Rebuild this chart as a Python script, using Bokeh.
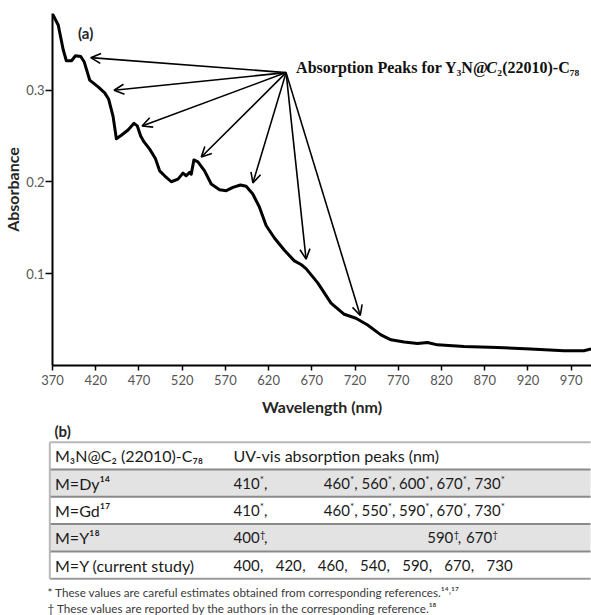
from bokeh.plotting import figure
from bokeh.models import Range1d, Arrow, OpenHead, ColumnDataSource, FixedTicker
from bokeh.layouts import column
from bokeh.embed import file_html
from bokeh.resources import INLINE
from bokeh.core.properties import value

# ---------------- data ----------------
wavelength = [370, 376.6, 382.4, 386, 392, 396.6, 402.7, 406.6, 413, 422.8, 430.4, 435,
              440, 443.9, 449.6, 457.4, 464.3, 468.1, 472, 475.9, 482.4, 489, 493.9,
              499.7, 507.4, 515.2, 520.9, 524.7, 528.6, 530.5, 533.6, 538.2, 545.9,
              553.6, 563.2, 571, 578.7, 587.4, 594, 601.7, 609.4, 617.1, 626.7, 638.3,
              649.8, 657.5, 663.3, 676.8, 692.2, 707.5, 721, 734.5, 749.9, 761.5,
              776.8, 792.2, 803.8, 815.3, 846.1, 884.6, 923.1, 961.6, 984.7, 993]
absorbance = [0.383, 0.371, 0.344, 0.332, 0.332, 0.3375, 0.3367, 0.331, 0.311, 0.3035,
              0.297, 0.290, 0.2717, 0.247, 0.2508, 0.2566, 0.2638, 0.261, 0.250, 0.2436,
              0.2357, 0.2256, 0.2121, 0.2067, 0.2002, 0.2031, 0.2096, 0.2067, 0.2104,
              0.2085, 0.224, 0.2219, 0.2121, 0.1977, 0.1915, 0.1905, 0.1941, 0.1966,
              0.1952, 0.1869, 0.1725, 0.1525, 0.1389, 0.1255, 0.1140, 0.1100, 0.1056,
              0.0900, 0.0680, 0.0558, 0.0515, 0.0442, 0.0334, 0.0280, 0.0255, 0.0240,
              0.0251, 0.0225, 0.0208, 0.0197, 0.0179, 0.0160, 0.0160, 0.0180]

arrow_tip_nm = [414.2, 441.2, 473.6, 542.1, 601.8, 663.3, 726.0]
arrow_tip_abs = [0.3354, 0.2999, 0.2610, 0.2271, 0.1989, 0.1159, 0.0545]
arrow_origin_nm = 640.2
arrow_origin_abs = 0.3191

x_ticks = [370, 420, 470, 520, 570, 620, 670, 720, 770, 820, 870, 920, 970]
y_ticks = [0.1, 0.2, 0.3]

table_header = ["M\u2083N@C\u2082 (22010)-C\u2087\u2088", "UV-vis absorption peaks (nm)"]
table_rows = ["M=Dy\u00b9\u2074", "M=Gd\u00b9\u2077", "M=Y\u00b9\u2078", "M=Y (current study)"]
peaks_dy = [410, 460, 560, 600, 670, 730]
peaks_gd = [410, 460, 550, 590, 670, 730]
peaks_y18 = [400, 590, 670]
peaks_current = [400, 420, 460, 540, 590, 670, 730]
peak_marks = ["*", "*", "\u2020", ""]
footnotes = ["* These values are careful estimates obtained from corresponding references.\u00b9\u2074\u02d2\u00b9\u2077",
             "\u2020 These values are reported by the authors in the corresponding reference.\u00b9\u2078"]

# ---------------- chart (a) ----------------
p = figure(width=591, height=418, x_range=Range1d(370, 993.5), y_range=Range1d(0, 0.3835),
           output_backend="svg", toolbar_location=None,
           min_border_left=51, min_border_right=0, min_border_top=13, min_border_bottom=51)
p.frame_align = False
p.outline_line_color = None
p.grid.visible = False

p.line(wavelength, absorbance, line_width=3, line_color="black", line_join="round")

src = ColumnDataSource(dict(x0=[arrow_origin_nm] * len(arrow_tip_nm),
                            y0=[arrow_origin_abs] * len(arrow_tip_nm),
                            x1=arrow_tip_nm, y1=arrow_tip_abs))
p.add_layout(Arrow(end=OpenHead(size=10, line_width=1.6, line_color="black"),
                   x_start="x0", y_start="y0", x_end="x1", y_end="y1",
                   line_width=1.6, line_color="black", source=src))

p.text(x=[399.5], y=[0.3622], text=["(a)"], text_font=value("Lato"), text_font_style="bold",
       text_font_size="15px", text_baseline="middle", text_align="left", text_color="#262626")

# title with italic C
title_kw = dict(text_font=value("Liberation Serif"), text_font_size="16px",
                text_baseline="alphabetic", text_align="left", text_color="#111111")
p.text(x=[651.8], y=[0.3252], text=["Absorption Peaks for Y\u2083N@"],
       text_font_style="bold", **title_kw)
p.text(x=[871.8], y=[0.3252], text=["C"], text_font_style="bold italic", **title_kw)
p.text(x=[884.6], y=[0.3252], text=["\u2082(22010)-C\u2087\u2088"],
       text_font_style="bold", **title_kw)

for ax in (p.xaxis[0], p.yaxis[0]):
    ax.axis_line_width = 2
    ax.axis_line_color = "black"
    ax.major_tick_line_width = 1.5
    ax.major_tick_line_color = "black"
    ax.major_tick_in = 0
    ax.minor_tick_line_color = None
    ax.major_label_text_font = "Lato"
    ax.major_label_text_font_size = "13px"
    ax.major_label_text_color = "#555555"
    ax.axis_label_text_font = "Lato"
    ax.axis_label_text_font_style = "bold"
    ax.axis_label_text_font_size = "16px"
    ax.axis_label_text_color = "#262626"

p.xaxis.ticker = FixedTicker(ticks=x_ticks)
p.yaxis.ticker = FixedTicker(ticks=y_ticks)
p.xaxis.major_tick_out = 5
p.yaxis.major_tick_out = 7
p.xaxis.major_label_standoff = 4
p.yaxis.major_label_standoff = 1
p.xaxis.axis_label = "Wavelength (nm)"
p.yaxis.axis_label = "Absorbance"
p.xaxis.axis_label_standoff = 9
p.yaxis.axis_label_standoff = 1

# ---------------- table (b) ----------------
fig2_top, fig2_bottom = 418, 615
t = figure(width=591, height=fig2_bottom - fig2_top, x_range=Range1d(0, 591),
           y_range=Range1d(fig2_bottom, fig2_top),
           output_backend="svg", toolbar_location=None, min_border=0,
           min_border_left=0, min_border_right=0, min_border_top=0, min_border_bottom=0,
           x_axis_location=None, y_axis_location=None)
t.frame_align = False
t.outline_line_color = None
t.grid.visible = False

table_left, table_right = 49.3, 590.0
table_top, row_h = 441.7, 27.3
n_rows = len(table_rows) + 1
tops = [table_top + i * row_h for i in range(n_rows)]
bottoms = [tp + row_h for tp in tops]
fills = ["white", "#e3e3e3", "white", "#e3e3e3", "white"]
t.quad(left=table_left, right=table_right, top=tops, bottom=bottoms,
       fill_color=fills, line_color=None)
t.segment(x0=[table_left] * (n_rows - 1), x1=[table_right] * (n_rows - 1),
          y0=bottoms[:-1], y1=bottoms[:-1], line_color="#8a8a8a", line_width=2)
t.segment(x0=[table_left], x1=[table_right], y0=[tops[0]], y1=[tops[0]],
          line_color="#b8b8b8", line_width=2)
t.segment(x0=[table_left], x1=[table_right], y0=[bottoms[-1]], y1=[bottoms[-1]],
          line_color="#9a9a9a", line_width=2)
t.segment(x0=[table_left], x1=[table_left], y0=[tops[0]], y1=[bottoms[-1]],
          line_color="#b8b8b8", line_width=2)

col1_x, col2_x = 54.5, 233.0
centers = [tp + row_h / 2 for tp in tops]
txt = dict(text_font=value("Lato"), text_font_size="16px", text_baseline="middle",
           text_align="left", text_color="#1a1a1a")
t.text(x=[col1_x, col2_x], y=[centers[0], centers[0]], text=table_header, **txt)
t.text(x=[col1_x] * len(table_rows), y=centers[1:], text=table_rows, **txt)

# peak values: horizontal slots of each row (layout positions)
slots = [[233, 323.3, 361, 398.5, 436, 474],
         [233, 323.3, 361, 398.5, 436, 474],
         [233, 426.7, 465.5],
         [233, 275.2, 317.3, 359.5, 401.7, 443.8, 486]]
peak_lists = [peaks_dy, peaks_gd, peaks_y18, peaks_current]
num_x, num_y, num_t = [], [], []
mark_x, mark_y, mark_t = [], [], []
com_x, com_y, com_off = [], [], []
for r, (vals, mk, xs) in enumerate(zip(peak_lists, peak_marks, slots)):
    yc = centers[r + 1]
    for k, (v, xx) in enumerate(zip(vals, xs)):
        num_x.append(xx); num_y.append(yc); num_t.append(str(v))
        if mk:
            mark_x.append(xx); mark_y.append(yc); mark_t.append(mk)
        if k < len(vals) - 1:
            com_x.append(xx); com_y.append(yc); com_off.append(30.5 if mk else 26.5)

num_kw = dict(text_font=value("Lato"), text_font_size="15px", text_baseline="middle",
              text_align="left", text_color="#1a1a1a")
t.text(x=num_x, y=num_y, text=num_t, **num_kw)
t.text(x=mark_x, y=mark_y, text=mark_t, x_offset=26.3, y_offset=-4,
       text_font=value("Lato"), text_font_size="10px", text_baseline="middle",
       text_align="left", text_color="#1a1a1a")
csrc = ColumnDataSource(dict(x=com_x, y=com_y, off=com_off, t=[","] * len(com_x)))
t.text(x="x", y="y", text="t", x_offset="off", source=csrc, **num_kw)

t.text(x=[54], y=[430.7], text=["(b)"], text_font=value("Lato"), text_font_style="bold",
       text_font_size="15px", text_baseline="middle", text_align="left", text_color="#262626")

t.text(x=[47, 47], y=[591.7, 607.5], text=footnotes, text_font=value("Lato"),
       text_font_size="11.7px", text_baseline="middle", text_align="left", text_color="#3a3a3a")

layout = column(p, t, spacing=0)
open("out.html", "w").write(file_html(layout, INLINE))
